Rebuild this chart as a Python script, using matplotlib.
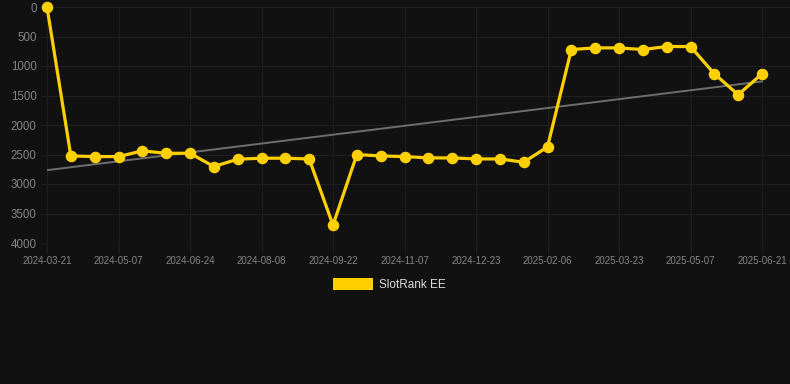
import matplotlib
matplotlib.use("Agg")
import matplotlib.pyplot as plt
import numpy as np
from matplotlib.patches import Rectangle

dates = ["2024-03-21", "2024-04-05", "2024-04-21", "2024-05-07", "2024-05-23", "2024-06-08",
         "2024-06-24", "2024-07-09", "2024-07-24", "2024-08-08", "2024-08-23", "2024-09-07",
         "2024-09-22", "2024-10-07", "2024-10-23", "2024-11-07", "2024-11-22", "2024-12-08",
         "2024-12-23", "2025-01-07", "2025-01-22", "2025-02-06", "2025-02-21", "2025-03-08",
         "2025-03-23", "2025-04-07", "2025-04-22", "2025-05-07", "2025-05-22", "2025-06-06",
         "2025-06-21"]
ranks = [0, 2524, 2535, 2535, 2439, 2479, 2479, 2704, 2580, 2563, 2563, 2575, 3696, 2501,
         2524, 2535, 2558, 2558, 2575, 2575, 2631, 2372, 721, 693, 693, 721, 670, 670,
         1132, 1487, 1132]
series_name = "SlotRank EE"
yticks = [0, 500, 1000, 1500, 2000, 2500, 3000, 3500, 4000]

BG = "#111111"
GRID = "#1f1f1f"
TICK = "#858585"
GOLD = "#FFD000"

W, H = 790, 384
fig = plt.figure(figsize=(W / 100, H / 100), dpi=100, facecolor=BG)
left, right, top, bottom = 47, 790, 7, 243
ax = fig.add_axes([left / W, 1 - bottom / H, (right - left) / W, (bottom - top) / H])
ax.set_facecolor(BG)

x = np.arange(len(ranks))
coef = np.polyfit(x, ranks, 1)
ax.plot(x, np.polyval(coef, x), color="#6e6e6e", lw=1.4, zorder=2)
ax.plot(x, ranks, color=GOLD, lw=2.3, marker="o", ms=7.3, zorder=3, clip_on=False)

step = (762 - 47) / 30
ax.set_xlim(0, (right - 47) / step)
ax.set_ylim(4000, 0)
ax.set_yticks(yticks)
ax.set_yticklabels([str(v) for v in yticks])
ax.set_xticks(x[::3])
ax.set_xticklabels([dates[i] for i in x[::3]])

for s in ax.spines.values():
    s.set_visible(False)
ax.grid(True, color=GRID, lw=0.8)
ax.axhline(4000, color="#2a2a2a", lw=0.8, zorder=1)
ax.set_axisbelow(True)
ax.tick_params(axis="y", colors=GRID, length=4, width=0.8, pad=3.5, labelcolor=TICK,
               labelsize=8.3)
ax.tick_params(axis="x", colors=GRID, length=8, width=0.8, pad=1.5, labelcolor=TICK,
               labelsize=7)
for lab in ax.get_xticklabels() + ax.get_yticklabels():
    lab.set_fontfamily("Liberation Sans")

# legend
fig.add_artist(Rectangle((333 / W, 1 - 290 / H), 40 / W, 12 / H, transform=fig.transFigure,
                         facecolor=GOLD, edgecolor="none"))
fig.text(379 / W, 1 - 284.5 / H, series_name, color="#dddddd", fontsize=8.5,
         family="Liberation Sans", va="center", ha="left")

fig.savefig("out.png", dpi=100, facecolor=BG)
